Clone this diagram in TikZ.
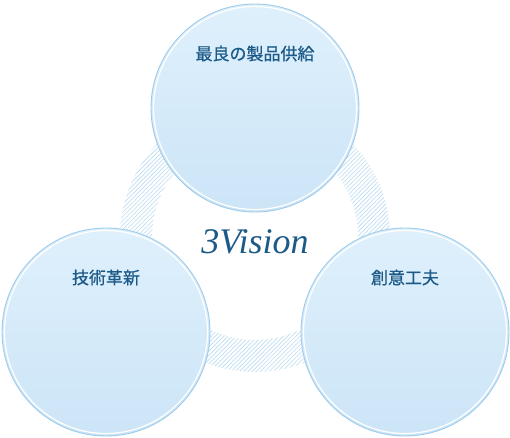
\documentclass[tikz,border=0pt]{standalone}
\usepackage{fontspec}
\setmainfont{Liberation Serif}
\newfontfamily\jpfont[FakeBold=0.6]{Noto Sans CJK JP}
\usetikzlibrary{positioning, patterns.meta}
\definecolor{vblue}{RGB}{28,90,136}
\definecolor{vedge}{RGB}{158,204,234}
\definecolor{vtop}{RGB}{223,240,252}
\definecolor{vbottom}{RGB}{204,229,247}
\definecolor{vhatch}{RGB}{198,225,243}

\begin{document}
\begin{tikzpicture}[x=1pt, y=-1pt,
    vision/.style={circle, minimum size=208pt, inner sep=0pt,
      draw=vedge, line width=0.9pt, top color=vtop, bottom color=vbottom,
      path picture={\draw[white, line width=1.2pt]
        (path picture bounding box.center) circle (101.5pt);}},
    vlabel/.style={font=\jpfont\fontsize{17}{19}\selectfont, text=vblue, inner sep=0pt},
    vtitle/.style={font=\fontsize{36}{40}\selectfont\itshape, text=vblue, inner sep=0pt}]
  \useasboundingbox (0,0) rectangle (510,437);
  \fill[white] (0,0) rectangle (510,437);
  % hatched ring behind the three circles
  \coordinate (hub) at (255,237);
  \fill[pattern={Lines[angle=45, distance=3pt, line width=0.8pt]}, pattern color=vhatch,
    even odd rule] (hub) circle (135pt) (hub) circle (103pt);

  \node[vision] (supply) at (255,108) {};
  \node[vision] (tech) at (106,332) {};
  \node[vision] (idea) at (405,332) {};

  \node[vlabel] (supplytext) at ([yshift=-50pt]supply.north) {最良の製品供給};
  \node[vlabel] (techtext) at ([yshift=-50pt]tech.north) {技術革新};
  \node[vlabel] (ideatext) at ([yshift=-50pt]idea.north) {創意工夫};

  \node[vtitle, anchor=base] (title) at (255,253) {3Vision};
\end{tikzpicture}
\end{document}
